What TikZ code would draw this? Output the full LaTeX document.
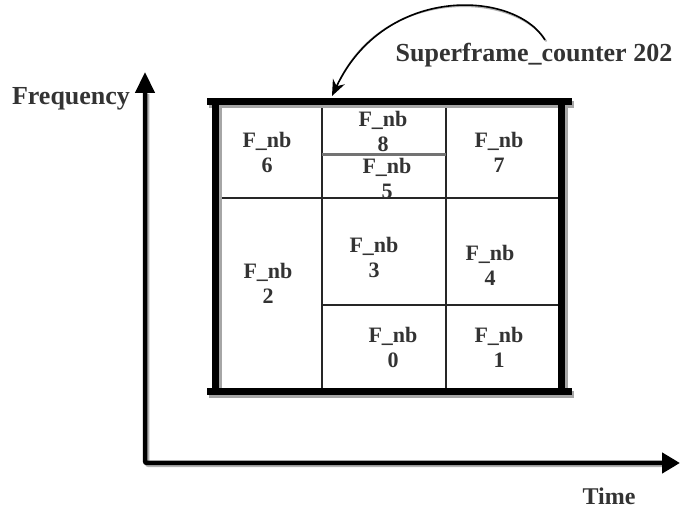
\documentclass[tikz,border=0pt]{standalone}
\usepackage{fontspec}
\setmainfont{Liberation Serif}
\usetikzlibrary{arrows.meta}
\definecolor{txt}{HTML}{333333}
\tikzset{
  lbl/.style={font=\bfseries\fontsize{26}{28}\selectfont, text=txt, inner sep=0pt, anchor=base},
  cell/.style={font=\bfseries\fontsize{22}{25}\selectfont, text=txt, inner sep=0pt, align=center},
  thickline/.style={line width=7pt, black},
  thinline/.style={line width=1.5pt, black!85},
  shadowline/.style={line width=7pt, black!35},
  axis/.style={line width=4.5pt, black, rounded corners=2pt},
  curvearrow/.style={line width=1.6pt, black, -{Stealth[length=16pt,width=13pt]}},
}
\begin{document}
\begin{tikzpicture}[x=1pt,y=-1pt]
\useasboundingbox[fill=white] (0,0) rectangle (681,510);

% axes
\coordinate (ytop) at (145,72);
\coordinate (origin) at (145,463);
\coordinate (xend) at (680,463);
\draw[line width=4.5pt, black!30, rounded corners=2pt] ([shift={(2,2)}]ytop) ++(0,20) -- ([shift={(2,2)}]origin) -- ([shift={(-18,2)}]xend);
\draw[axis, {Triangle[length=21pt,width=19pt]}-{Triangle[length=18pt,width=20pt]}] (ytop) -- (origin) -- (xend);

% frame corners
\coordinate (tl) at (215,102);
\coordinate (tr) at (561,102);
\coordinate (bl) at (215,392);
\coordinate (br) at (561,392);

% thin grid lines
\draw[thinline] (322,102) -- (322,392);
\draw[thinline] (446,102) -- (446,392);
\draw[thinline] (215,198) -- (561,198);
\draw[thinline] (322,305) -- (561,305);
\draw[line width=3pt, black!55] (322,155) -- (446,155);

% thick frame with shadow
\draw[shadowline] (218,105) -- (218,395);
\draw[shadowline] (564,105) -- (564,395);
\draw[shadowline] (209,395) -- (574,395);
\draw[shadowline] (209,105) -- (574,105);
\draw[thickline] (207,102) -- (572,102);
\draw[thickline] (207,392) -- (572,392);
\draw[thickline] (tl) -- (bl);
\draw[thickline] (tr) -- (br);

% cell labels
\node[cell] (c6) at (267,152) {F\_nb\\6};
\node[cell] (c8) at (383,131) {F\_nb\\8};
\node[cell] (c5) at (387,178) {F\_nb\\5};
\node[cell] (c7) at (499,152) {F\_nb\\7};
\node[cell] (c2) at (268,283) {F\_nb\\2};
\node[cell] (c3) at (374,257) {F\_nb\\3};
\node[cell] (c4) at (490,265) {F\_nb\\4};
\node[cell] (c0) at (393,347) {F\_nb\\0};
\node[cell] (c1) at (499,347) {F\_nb\\1};

% labels
\node[lbl] (freq) at (71,105) {Frequency};
\node[lbl, font=\bfseries\fontsize{24}{26}\selectfont] (time) at (609,505) {Time};
\node[lbl] (sfc) at (534,62) {Superframe\_counter 202};

% curved arrow
\coordinate (cstart) at (545,40);
\coordinate (cend) at (332,96);
\draw[line width=1.6pt, black!30] ([shift={(1.5,1.5)}]cstart) .. controls (516,-8) and (386,-14) .. (340,80);
\draw[curvearrow] (cstart) .. controls (515,-10) and (385,-16) .. (cend);
\end{tikzpicture}
\end{document}
